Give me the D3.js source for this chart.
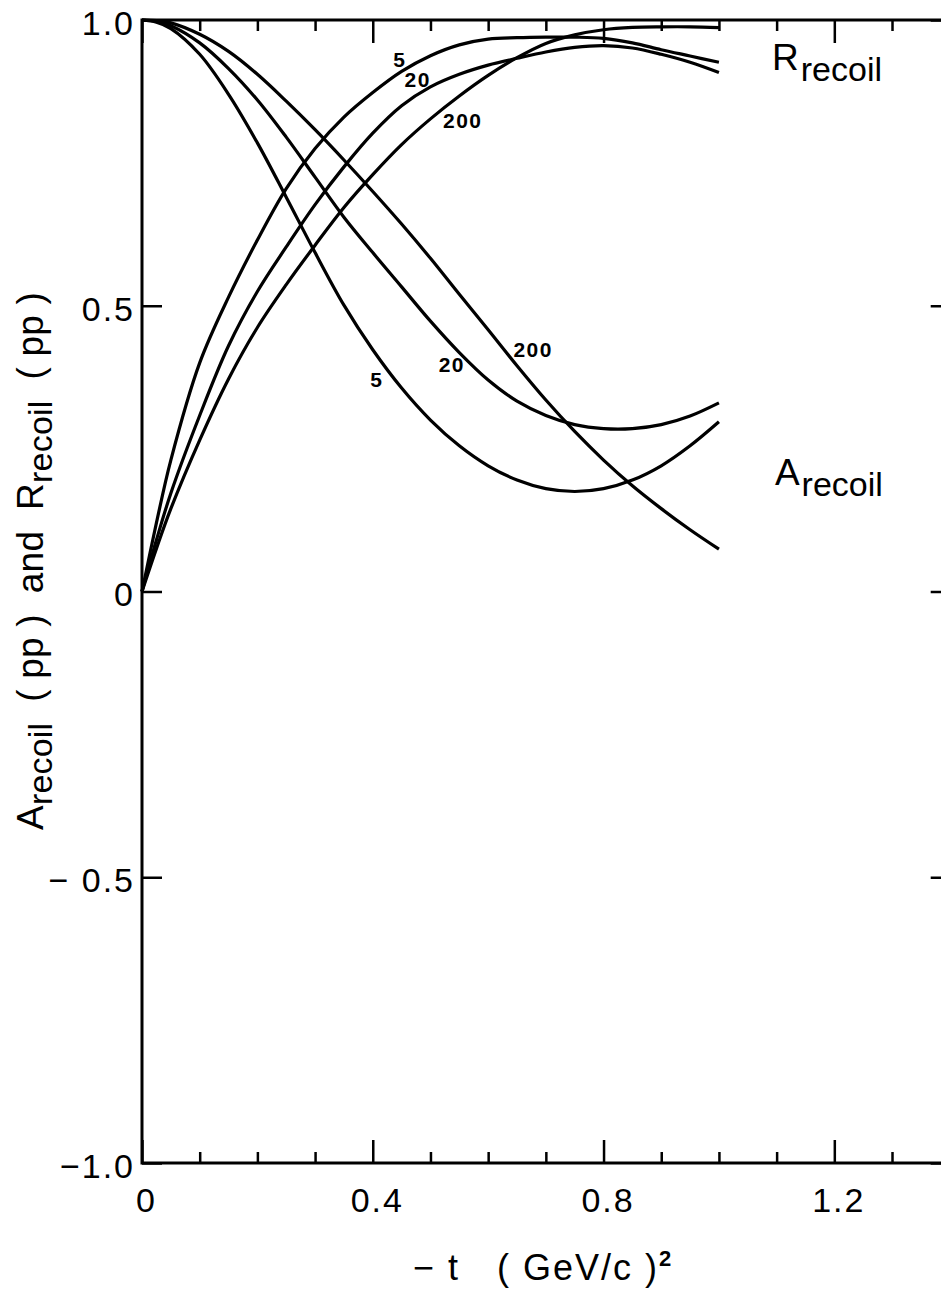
<!DOCTYPE html>
<html>
<head>
<meta charset="utf-8">
<script src="https://cdn.jsdelivr.net/npm/d3@7"></script>
<style>
  body { margin: 0; background: #fff; }
  svg { display: block; }
  text { font-family: "Liberation Sans", Arial, sans-serif; fill: #000; }
</style>
</head>
<body>
<div id="chart"></div>
<script>
// -t grid (GeV/c)^2 used for all curves
const tGrid = [0, 0.025, 0.05, 0.1, 0.15, 0.2, 0.25, 0.3, 0.35, 0.4, 0.45, 0.5,
               0.55, 0.6, 0.65, 0.7, 0.75, 0.8, 0.85, 0.9, 0.95, 1.0];

// A_recoil (pp) at 5, 20, 200 GeV
const aRecoil5   = [1.0, 0.996, 0.985, 0.94, 0.87, 0.785, 0.69, 0.593, 0.501, 0.423, 0.356, 0.30,
                    0.255, 0.22, 0.195, 0.18, 0.175, 0.18, 0.195, 0.22, 0.255, 0.297];
const aRecoil20  = [1.0, 0.998, 0.99, 0.96, 0.915, 0.86, 0.795, 0.725, 0.655, 0.593, 0.533, 0.473,
                    0.418, 0.37, 0.333, 0.308, 0.292, 0.285, 0.285, 0.292, 0.307, 0.33];
const aRecoil200 = [1.0, 0.999, 0.995, 0.975, 0.945, 0.905, 0.858, 0.808, 0.755, 0.70, 0.643, 0.583,
                    0.52, 0.458, 0.395, 0.335, 0.28, 0.23, 0.185, 0.145, 0.108, 0.074];

// R_recoil (pp) at 5, 20, 200 GeV
const rRecoil5   = [0, 0.12, 0.23, 0.40, 0.515, 0.615, 0.705, 0.775, 0.83, 0.873, 0.91, 0.9375,
                    0.9565, 0.9665, 0.969, 0.97, 0.97, 0.968, 0.96, 0.948, 0.937, 0.926];
const rRecoil20  = [0, 0.09, 0.172, 0.308, 0.43, 0.525, 0.603, 0.677, 0.743, 0.802, 0.85, 0.883,
                    0.905, 0.921, 0.933, 0.944, 0.952, 0.955, 0.951, 0.94, 0.926, 0.908];
const rRecoil200 = [0, 0.075, 0.145, 0.265, 0.372, 0.462, 0.537, 0.606, 0.672, 0.7295, 0.782, 0.827,
                    0.867, 0.903, 0.934, 0.959, 0.974, 0.983, 0.987, 0.988, 0.988, 0.9865];

const xMajorTicks = [0, 0.4, 0.8, 1.2];
const xMajorLabels = ["0", "0.4", "0.8", "1.2"];
const xMinorTicks = [0.1, 0.2, 0.3, 0.5, 0.6, 0.7, 0.9, 1.0, 1.1, 1.3];
const yTicks = [-1, -0.5, 0, 0.5, 1];
const yTickLabels = ["\u22121.0", "\u2212 0.5", "0", "0.5", "1.0"];

// energy labels on the curves, in data units
const curveLabels = [
  { text: "5",   t: 0.447, v: 0.918 },
  { text: "20",  t: 0.478, v: 0.883 },
  { text: "200", t: 0.556, v: 0.811 },
  { text: "5",   t: 0.407, v: 0.358 },
  { text: "20",  t: 0.537, v: 0.384 },
  { text: "200", t: 0.678, v: 0.41 }
];

const width = 941, height = 1299;
const x = d3.scaleLinear().domain([0, 1.4]).range([142, 949.7]);
const y = d3.scaleLinear().domain([-1, 1]).range([1163, 20]);

const svg = d3.select("#chart").append("svg")
  .attr("width", width).attr("height", height);

// frame
svg.append("rect")
  .attr("x", x(0)).attr("y", y(1))
  .attr("width", x(1.4) - x(0)).attr("height", y(-1) - y(1))
  .attr("fill", "none").attr("stroke", "#000").attr("stroke-width", 3);

function tickAxis(axis, transform) {
  const g = svg.append("g").attr("transform", transform).call(axis);
  g.select(".domain").remove();
  g.selectAll(".tick line").attr("stroke", "#000").attr("stroke-width", 2.5);
  return g;
}

// bottom / top ticks, pointing inward
tickAxis(d3.axisBottom(x).tickValues(xMinorTicks).tickSize(-11).tickFormat(""), `translate(0,${y(-1)})`);
tickAxis(d3.axisTop(x).tickValues(xMinorTicks).tickSize(-11).tickFormat(""), `translate(0,${y(1)})`);
tickAxis(d3.axisTop(x).tickValues(xMajorTicks).tickSize(-23).tickFormat(""), `translate(0,${y(1)})`);
const xb = tickAxis(d3.axisBottom(x).tickValues(xMajorTicks).tickSize(-23)
    .tickFormat((d, i) => xMajorLabels[i]), `translate(0,${y(-1)})`);
xb.selectAll(".tick text")
  .attr("y", 49).attr("dy", null).attr("dx", 4)
  .style("font-size", "34px")
  .style("letter-spacing", "2px");

// left / right ticks
const yl = tickAxis(d3.axisLeft(y).tickValues(yTicks).tickSize(-20)
    .tickFormat((d, i) => yTickLabels[i]), `translate(${x(0)},0)`);
yl.selectAll(".tick text")
  .attr("x", -7).attr("dy", "0.42em")
  .style("font-size", "34px")
  .style("letter-spacing", "2px");
tickAxis(d3.axisRight(y).tickValues(yTicks).tickSize(-19).tickFormat(""), `translate(${x(1.4)},0)`);

// curves
const line = d3.line()
  .x((d, i) => x(tGrid[i]))
  .y(d => y(d))
  .curve(d3.curveCatmullRom.alpha(0.5));

const series = [aRecoil5, aRecoil20, aRecoil200, rRecoil5, rRecoil20, rRecoil200];
svg.append("g").selectAll("path")
  .data(series)
  .join("path")
  .attr("d", line)
  .attr("fill", "none")
  .attr("stroke", "#000")
  .attr("stroke-width", 3.2);

svg.append("g").selectAll("text")
  .data(curveLabels)
  .join("text")
  .attr("x", d => x(d.t))
  .attr("y", d => y(d.v))
  .attr("text-anchor", "middle")
  .style("font-size", "21px")
  .style("font-weight", "bold")
  .style("letter-spacing", "1.5px")
  .text(d => d.text);

// R_recoil and A_recoil names
function subLabel(t, v, main, sub) {
  const tx = svg.append("text")
    .attr("x", x(t)).attr("y", y(v))
    .style("font-size", "37px");
  tx.append("tspan").text(main);
  tx.append("tspan").attr("dy", 11).attr("dx", 2).style("font-size", "34px").text(sub);
}
subLabel(1.092, 0.912, "R", "recoil");
subLabel(1.097, 0.186, "A", "recoil");

// axis titles
const xt = svg.append("text")
  .attr("x", 413).attr("y", 1280)
  .style("font-size", "36px")
  .style("letter-spacing", "2px")
  .attr("xml:space", "preserve");
xt.append("tspan").text("\u2212 t");
xt.append("tspan").attr("x", 497).text("( GeV/c )");
xt.append("tspan").attr("dy", -14).style("font-size", "22px").style("font-weight", "bold").text("2");

const yt = svg.append("text")
  .attr("transform", "translate(43,830) rotate(-90)")
  .style("font-size", "37px")
  .style("letter-spacing", "0.2px")
  .attr("xml:space", "preserve");
yt.append("tspan").text("A");
yt.append("tspan").attr("dy", 9).style("font-size", "34px").text("recoil");
yt.append("tspan").attr("dy", -9).text("  ( pp )  and  R");
yt.append("tspan").attr("dy", 9).style("font-size", "34px").text("recoil");
yt.append("tspan").attr("dy", -9).text("  ( pp )");
</script>
</body>
</html>
